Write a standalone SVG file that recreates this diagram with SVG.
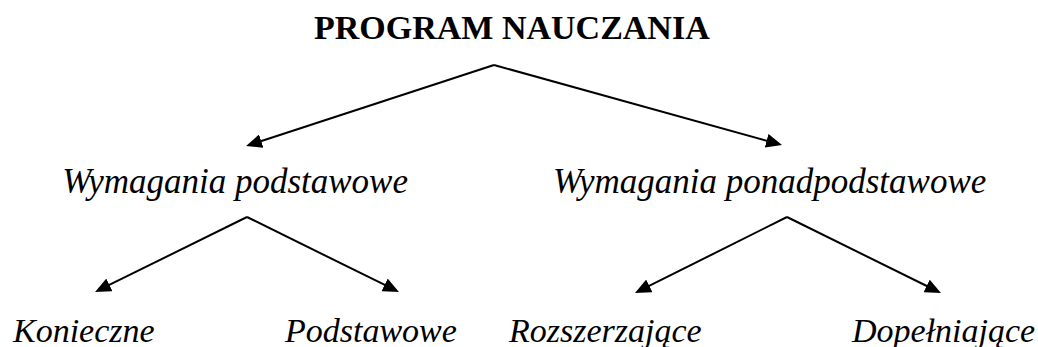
<svg xmlns="http://www.w3.org/2000/svg" width="1038" height="347" viewBox="0 0 1038 347">
<style>
.t{font-family:"Liberation Serif","Times New Roman",serif;fill:#000}
.title{font-size:34px;font-weight:bold}
.l2{font-size:35px;font-style:italic}
.l3{font-size:34px;font-style:italic}
.c{stroke:#000;stroke-width:2;fill:none;marker-end:url(#ah)}
</style>
<defs>
<marker id="ah" markerUnits="userSpaceOnUse" markerWidth="16" markerHeight="14" refX="3" refY="7" orient="auto">
<path d="M0,0 L16,7 L0,14 z" fill="#000"/>
</marker>
</defs>
<rect width="1038" height="347" fill="#fff"/>
<g id="connectors">
<path class="c" d="M494,65 L258.4,142"/>
<path class="c" d="M494,65 L769.5,141.5"/>
<path class="c" d="M247,217 L106.7,286.2"/>
<path class="c" d="M247,217 L387.3,286.2"/>
<path class="c" d="M787,217 L646.6,287.2"/>
<path class="c" d="M787,217 L929.3,287.25"/>
</g>
<g id="program"><text class="t title" x="314" y="39">PROGRAM NAUCZANIA</text></g>
<g id="podstawowe"><text class="t l2" x="408" y="193" text-anchor="end">Wymagania podstawowe</text></g>
<g id="ponadpodstawowe"><text class="t l2" x="553" y="193">Wymagania ponadpodstawowe</text></g>
<g id="konieczne"><text class="t l3" x="13" y="342">Konieczne</text></g>
<g id="podst"><text class="t l3" x="285" y="342">Podstawowe</text></g>
<g id="rozszerzajace"><text class="t l3" x="509" y="342">Rozszerzające</text></g>
<g id="dopelniajace"><text class="t l3" x="852" y="342">Dopełniające</text></g>
</svg>
